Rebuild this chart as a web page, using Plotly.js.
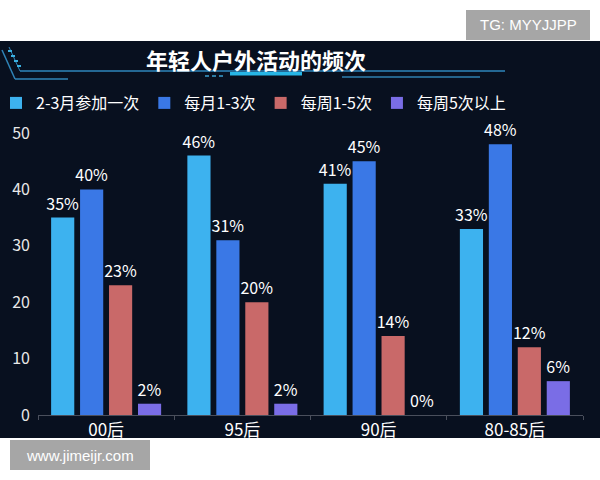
<!DOCTYPE html>
<html>
<head>
<meta charset="utf-8">
<script src="https://cdn.plot.ly/plotly-3.0.1.min.js"></script>
<style>
  html, body { margin: 0; padding: 0; background: #fff; }
  #chart { width: 600px; height: 480px; }
</style>
</head>
<body>
<div id="chart"></div>
<script>
const categories = ['00后', '95后', '90后', '80-85后'];
const seriesNames = ['2-3月参加一次', '每月1-3次', '每周1-5次', '每周5次以上'];
const seriesColors = ['#3db2ef', '#3a78e6', '#c96969', '#7a6de6'];
const values = [
    [35, 46, 41, 33],
    [40, 31, 45, 48],
    [23, 20, 14, 12],
    [2, 2, 0, 6]
];

const FONT = '"Noto Sans CJK SC", "Noto Sans", sans-serif';

// plot area in pixels
const L = 38, R = 583, T = 133, B = 415;
const px = x => (x - L) / (R - L);
const py = y => (B - y) / (B - T);

const data = seriesNames.map((name, i) => ({
    type: 'bar',
    name,
    x: categories,
    y: values[i],
    text: values[i].map(v => v + '%'),
    textposition: 'outside',
    constraintext: 'none',
    cliponaxis: false,
    textfont: { color: '#ffffff', size: 16, family: FONT },
    marker: { color: seriesColors[i] },
    hoverinfo: 'none'
}));

function line(x0, y0, x1, y1, color, width) {
    return {
        type: 'line', xref: 'paper', yref: 'paper', layer: 'below',
        x0: px(x0), y0: py(y0), x1: px(x1), y1: py(y1),
        line: { color, width }
    };
}

function rect(x0, y0, x1, y1, color, layer) {
    return {
        type: 'rect', xref: 'paper', yref: 'paper', layer: layer || 'below',
        x0: px(x0), y0: py(y0), x1: px(x1), y1: py(y1),
        fillcolor: color, line: { width: 0 }
    };
}

const shapes = [
    // dark panel
    rect(0, 41, 600, 438, '#08101f'),
    // title decoration
    line(2, 50, 15, 79, '#2f84b8', 1.5),
    line(15, 79, 68, 79, '#2f84b8', 1.5),
    line(9, 47, 20, 71, '#2f84b8', 1),
    line(20, 71, 505, 71, '#2e86bd', 1.5),
    line(342, 77, 480, 77, '#2e7fb0', 1.5),
    rect(230, 72, 302, 75.5, '#27b6e6'),
    line(8, 51, 12, 51, '#3ab0e0', 2),
    line(11, 56, 15, 56, '#3ab0e0', 2),
    line(14, 61, 18, 61, '#3ab0e0', 2),
    line(17, 66, 21, 66, '#3ab0e0', 2),
    line(205, 76, 209, 76, '#3a9fd0', 1.5),
    line(212, 76, 216, 76, '#3a9fd0', 1.5),
    line(219, 76, 223, 76, '#3a9fd0', 1.5),
    // watermark boxes
    rect(466, 10, 590, 40, '#a6a6a6', 'above'),
    rect(10, 440, 150, 470, '#a6a6a6', 'above')
];

const annotations = [
    {
        text: '年轻人户外活动的频次', xref: 'paper', yref: 'paper',
        x: px(256), y: py(59), xanchor: 'center', yanchor: 'middle',
        showarrow: false,
        font: { family: FONT, size: 22, color: '#ffffff', weight: 'bold' }
    },
    {
        text: 'TG: MYYJJPP', xref: 'paper', yref: 'paper',
        x: px(528), y: py(25), xanchor: 'center', yanchor: 'middle',
        showarrow: false,
        font: { family: '"Liberation Sans", Arial, sans-serif', size: 15, color: '#ffffff' }
    },
    {
        text: 'www.jimeijr.com', xref: 'paper', yref: 'paper',
        x: px(80), y: py(455), xanchor: 'center', yanchor: 'middle',
        showarrow: false,
        font: { family: '"Liberation Sans", Arial, sans-serif', size: 15, color: '#ffffff' }
    }
];

const layout = {
    width: 600,
    height: 480,
    margin: { l: L, r: 600 - R, t: T, b: 480 - B, pad: 0, autoexpand: false },
    paper_bgcolor: '#ffffff',
    plot_bgcolor: 'rgba(0,0,0,0)',
    font: { family: FONT, color: '#ffffff', size: 15 },
    barmode: 'group',
    bargap: 0.15,
    bargroupgap: 0.2,
    showlegend: true,
    legend: {
        orientation: 'h',
        x: px(-4), y: py(103), xanchor: 'left', yanchor: 'middle',
        font: { family: FONT, size: 16, color: '#ffffff' },
        itemwidth: 30,
        tracegroupgap: 0,
        bgcolor: 'rgba(0,0,0,0)'
    },
    xaxis: {
        type: 'category',
        showline: true,
        linecolor: '#4a4f5c',
        linewidth: 1,
        ticks: 'outside',
        tickson: 'boundaries',
        ticklen: 4,
        tickcolor: '#4a4f5c',
        tickfont: { family: FONT, size: 17, color: '#ffffff' },
        showgrid: false,
        zeroline: false,
        automargin: false,
        fixedrange: true
    },
    yaxis: {
        range: [0, 50],
        dtick: 10,
        showgrid: false,
        zeroline: false,
        showline: false,
        ticks: '',
        ticklabelstandoff: 7,
        automargin: false,
        tickfont: { family: FONT, size: 16, color: '#e8e8e8' },
        fixedrange: true
    },
    shapes,
    annotations
};

Plotly.newPlot('chart', data, layout, { displayModeBar: false, staticPlot: true });
</script>
</body>
</html>
